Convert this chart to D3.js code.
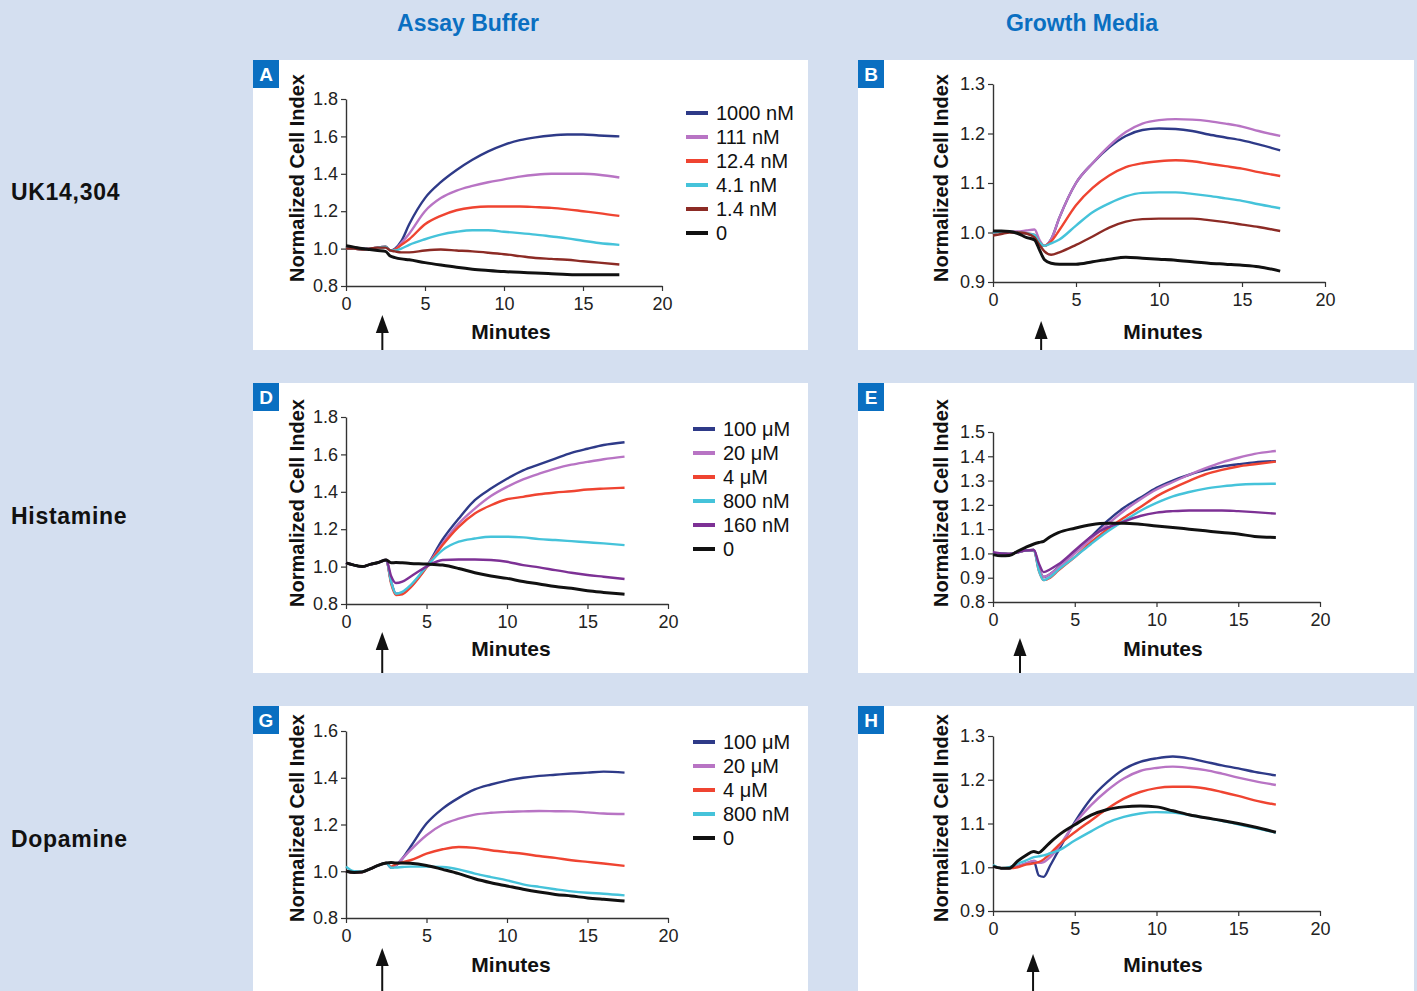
<!DOCTYPE html>
<html>
<head>
<meta charset="utf-8">
<script src="https://cdn.jsdelivr.net/npm/d3@7"></script>
<style>
  body { margin: 0; background: #d4dff0; }
  svg text { font-family: "Liberation Sans", Arial, Helvetica, sans-serif; }
</style>
</head>
<body>
<svg id="chart" width="1417" height="991"></svg>
<script>
// ---- Data ----
const minutes = [0, 0.5, 1, 1.5, 2, 2.5, 2.8, 3.1, 3.5, 4, 5, 6, 7, 8, 9, 10, 11, 12, 13, 14, 15, 16, 17.3];

const columnTitles = ["Assay Buffer", "Growth Media"];
const rowTitles = ["UK14,304", "Histamine", "Dopamine"];
const panelLetters = ["A", "B", "D", "E", "G", "H"];
const additionTimes = [2.3, 2.9, 2.25, 1.65, 2.25, 2.45];
const xTicks = [0, 5, 10, 15, 20];

const ukLabels = ["1000 nM", "111 nM", "12.4 nM", "4.1 nM", "1.4 nM", "0"];
const histLabels = ["100 μM", "20 μM", "4 μM", "800 nM", "160 nM", "0"];
const dopaLabels = ["100 μM", "20 μM", "4 μM", "800 nM", "0"];

// A: UK14,304 in assay buffer
const ukBuffer = [
  [1.01, 1.005, 1.0, 1.0, 1.005, 1.01, 0.99, 1.0, 1.04, 1.13, 1.27, 1.355, 1.42, 1.475, 1.52, 1.555, 1.58, 1.595, 1.605, 1.61, 1.61, 1.605, 1.60],
  [1.0, 1.0, 0.995, 1.0, 1.005, 1.01, 0.99, 0.995, 1.03, 1.08, 1.2, 1.27, 1.31, 1.335, 1.355, 1.37, 1.385, 1.395, 1.4, 1.4, 1.4, 1.395, 1.38],
  [1.0, 1.0, 0.995, 1.0, 1.005, 1.01, 0.99, 0.995, 1.02, 1.05, 1.13, 1.175, 1.205, 1.22, 1.225, 1.225, 1.225, 1.222, 1.218, 1.21, 1.2, 1.19, 1.175],
  [1.0, 1.0, 0.995, 1.0, 1.005, 1.01, 0.99, 0.99, 1.0, 1.02, 1.05, 1.075, 1.09, 1.098, 1.098, 1.09, 1.083, 1.075, 1.065, 1.055, 1.042, 1.03, 1.02],
  [1.0, 1.0, 0.995, 1.0, 1.005, 1.005, 0.99, 0.985, 0.98, 0.98, 0.99, 0.995, 0.99, 0.985, 0.978, 0.97, 0.96, 0.95, 0.945, 0.94, 0.932, 0.925, 0.915],
  [1.015, 1.008, 1.0, 0.995, 0.99, 0.985, 0.96, 0.952, 0.945, 0.94, 0.925, 0.912, 0.9, 0.89, 0.883, 0.877, 0.873, 0.87, 0.866, 0.862, 0.86, 0.86, 0.86]
];
// B: UK14,304 in growth media
const ukMedia = [
  [1.0, 1.002, 1.002, 1.0, 0.998, 0.993, 0.98, 0.973, 0.986, 1.03, 1.1, 1.14, 1.172, 1.195, 1.207, 1.21, 1.209, 1.205, 1.198, 1.192, 1.186, 1.178, 1.166],
  [1.0, 1.002, 1.002, 1.002, 1.004, 1.006, 0.985, 0.973, 0.986, 1.03, 1.1, 1.14, 1.175, 1.203, 1.22, 1.227, 1.229, 1.228, 1.225, 1.22, 1.214, 1.205, 1.195],
  [1.0, 1.002, 1.002, 1.0, 0.998, 0.995, 0.98, 0.973, 0.982, 1.005, 1.055, 1.09, 1.115, 1.132, 1.14, 1.144, 1.146, 1.144, 1.139, 1.134, 1.129, 1.122, 1.114],
  [1.0, 1.002, 1.002, 1.0, 0.998, 0.995, 0.98, 0.973, 0.978, 0.986, 1.014, 1.041, 1.059, 1.073, 1.08, 1.081, 1.081, 1.078, 1.074, 1.069, 1.064, 1.057, 1.049],
  [0.994, 0.997, 1.0, 1.0, 0.998, 0.99, 0.975, 0.962, 0.955, 0.96, 0.975, 0.992, 1.01, 1.022, 1.027, 1.028, 1.028, 1.028, 1.025, 1.021, 1.016, 1.011, 1.003],
  [1.003, 1.003, 1.002, 0.998, 0.99, 0.985, 0.965, 0.945, 0.938, 0.936, 0.936, 0.941, 0.946, 0.95, 0.948, 0.946, 0.944, 0.941, 0.938, 0.936, 0.934, 0.931, 0.922]
];
// D: histamine in assay buffer
const histBuffer = [
  [1.02, 1.008, 1.0, 1.012, 1.022, 1.035, 0.92, 0.855, 0.86, 0.893, 1.0, 1.145, 1.257, 1.355, 1.417, 1.47, 1.515, 1.547, 1.578, 1.608, 1.63, 1.65, 1.665],
  [1.02, 1.008, 1.0, 1.012, 1.022, 1.035, 0.92, 0.855, 0.86, 0.893, 1.0, 1.124, 1.23, 1.31, 1.377, 1.426, 1.466, 1.497, 1.524, 1.545, 1.56, 1.574, 1.588],
  [1.02, 1.008, 1.0, 1.012, 1.022, 1.035, 0.91, 0.848, 0.852, 0.888, 0.995, 1.115, 1.213, 1.284, 1.328, 1.36, 1.373, 1.387, 1.396, 1.403, 1.412, 1.417, 1.422],
  [1.02, 1.008, 1.0, 1.012, 1.022, 1.035, 0.92, 0.855, 0.865, 0.9, 1.0, 1.088, 1.133, 1.15, 1.16, 1.16, 1.156, 1.147, 1.142, 1.136, 1.13, 1.124, 1.115],
  [1.02, 1.008, 1.0, 1.012, 1.022, 1.035, 0.95, 0.912, 0.92, 0.946, 1.0, 1.035, 1.038, 1.038, 1.035, 1.026, 1.008, 0.996, 0.981, 0.967, 0.955, 0.946, 0.934],
  [1.02, 1.008, 1.0, 1.012, 1.022, 1.035, 1.02, 1.022, 1.02, 1.017, 1.014, 1.008, 0.99, 0.967, 0.95, 0.937, 0.92, 0.907, 0.893, 0.884, 0.871, 0.862, 0.852]
];
// E: histamine in growth media
const histMedia = [
  [1.0, 1.0, 0.998, 1.005, 1.012, 1.014, 0.94, 0.903, 0.915, 0.944, 1.005, 1.069, 1.134, 1.188, 1.229, 1.27, 1.3, 1.324, 1.344, 1.358, 1.367, 1.375, 1.38],
  [1.0, 1.0, 0.998, 1.005, 1.012, 1.014, 0.94, 0.903, 0.915, 0.941, 1.0, 1.06, 1.12, 1.175, 1.222, 1.263, 1.294, 1.324, 1.351, 1.375, 1.394, 1.41, 1.422],
  [1.0, 1.0, 0.998, 1.005, 1.012, 1.014, 0.93, 0.89, 0.9, 0.93, 0.985, 1.046, 1.1, 1.147, 1.19, 1.235, 1.269, 1.299, 1.326, 1.344, 1.358, 1.367, 1.378],
  [1.0, 1.0, 0.998, 1.005, 1.012, 1.014, 0.93, 0.89, 0.903, 0.933, 0.985, 1.039, 1.09, 1.134, 1.175, 1.208, 1.235, 1.253, 1.267, 1.276, 1.283, 1.286, 1.287],
  [1.005, 1.0, 0.998, 1.005, 1.012, 1.014, 0.96, 0.923, 0.935, 0.955, 1.012, 1.069, 1.107, 1.131, 1.154, 1.168, 1.174, 1.177, 1.177, 1.177, 1.174, 1.17, 1.164],
  [0.995, 0.99, 0.991, 1.009, 1.025, 1.039, 1.045, 1.05, 1.069, 1.086, 1.104, 1.118, 1.124, 1.124, 1.12, 1.113, 1.107, 1.1, 1.093, 1.086, 1.08, 1.07, 1.066]
];
// G: dopamine in assay buffer
const dopaBuffer = [
  [1.0, 0.995, 0.997, 1.01, 1.025, 1.035, 1.015, 1.025, 1.054, 1.104, 1.204, 1.268, 1.314, 1.35, 1.371, 1.388, 1.4, 1.408, 1.413, 1.418, 1.422, 1.426, 1.422],
  [1.0, 0.995, 0.997, 1.01, 1.025, 1.035, 1.015, 1.025, 1.054, 1.09, 1.154, 1.2, 1.225, 1.242, 1.25, 1.254, 1.256, 1.258, 1.257, 1.256, 1.252, 1.247, 1.245],
  [1.0, 0.995, 0.997, 1.01, 1.025, 1.035, 1.02, 1.03, 1.038, 1.047, 1.075, 1.094, 1.104, 1.1, 1.09, 1.082, 1.075, 1.065, 1.057, 1.047, 1.04, 1.033, 1.023],
  [1.02, 1.0, 0.998, 1.01, 1.025, 1.035, 1.015, 1.016, 1.018, 1.02, 1.02, 1.018, 1.008, 0.99, 0.975, 0.961, 0.944, 0.933, 0.923, 0.914, 0.908, 0.904, 0.897],
  [1.0, 0.995, 0.997, 1.01, 1.025, 1.035, 1.037, 1.035, 1.035, 1.034, 1.025, 1.008, 0.99, 0.968, 0.951, 0.937, 0.923, 0.911, 0.901, 0.894, 0.886, 0.88, 0.873]
];
// H: dopamine in growth media
const dopaMedia = [
  [1.002, 0.998, 0.998, 1.002, 1.008, 1.013, 0.981, 0.978, 1.004, 1.038, 1.103, 1.157, 1.195, 1.224, 1.241, 1.249, 1.253, 1.249, 1.241, 1.233, 1.226, 1.218, 1.21],
  [1.002, 0.998, 0.998, 1.002, 1.008, 1.015, 1.01, 1.012, 1.023, 1.046, 1.1, 1.142, 1.176, 1.203, 1.22, 1.227, 1.23, 1.227, 1.222, 1.214, 1.205, 1.197, 1.188],
  [1.002, 0.998, 0.998, 1.0, 1.006, 1.009, 1.012, 1.018, 1.031, 1.05, 1.08, 1.107, 1.134, 1.157, 1.172, 1.181, 1.184, 1.184, 1.18, 1.172, 1.163, 1.153, 1.143],
  [1.005, 0.998, 1.0, 1.008, 1.015, 1.023, 1.025, 1.027, 1.032, 1.038, 1.061, 1.082, 1.102, 1.115, 1.123, 1.126, 1.125, 1.119, 1.113, 1.106, 1.098, 1.09, 1.079],
  [1.002, 0.998, 0.998, 1.014, 1.027, 1.036, 1.033, 1.042, 1.057, 1.073, 1.097, 1.119, 1.132, 1.138, 1.14, 1.138, 1.129, 1.12, 1.113, 1.107, 1.1, 1.092, 1.08]
];

// y-axis ticks per panel
const yTicksA = [0.8, 1.0, 1.2, 1.4, 1.6, 1.8];
const yTicksB = [0.9, 1.0, 1.1, 1.2, 1.3];
const yTicksE = [0.8, 0.9, 1.0, 1.1, 1.2, 1.3, 1.4, 1.5];
const yTicksG = [0.8, 1.0, 1.2, 1.4, 1.6];

// ---- Colours ----
const navy = "#2e3a88", orchid = "#b874c4", red = "#ef4431", cyan = "#45c3da",
      brown = "#8c2b25", purple = "#7d3195", black = "#111111";

// ---- Layout ----
const panels = [
  { values: ukBuffer, labels: ukLabels, colors: [navy, orchid, red, cyan, brown, black], yTicks: yTicksA,
    box: [253, 60, 555, 290], xr: [346, 662], yr: [286, 99], legend: [686, 113], title: [297, 178], minutes: [511, 332] },
  { values: ukMedia, labels: null, colors: [navy, orchid, red, cyan, brown, black], yTicks: yTicksB,
    box: [858, 60, 556, 290], xr: [993, 1325], yr: [282, 84], title: [941, 178], minutes: [1163, 332] },
  { values: histBuffer, labels: histLabels, colors: [navy, orchid, red, cyan, purple, black], yTicks: yTicksA,
    box: [253, 383, 555, 290], xr: [346, 668], yr: [604, 417], legend: [693, 429], title: [297, 503], minutes: [511, 649] },
  { values: histMedia, labels: null, colors: [navy, orchid, red, cyan, purple, black], yTicks: yTicksE,
    box: [858, 383, 556, 290], xr: [993, 1320], yr: [602, 432], title: [941, 503], minutes: [1163, 649] },
  { values: dopaBuffer, labels: dopaLabels, colors: [navy, orchid, red, cyan, black], yTicks: yTicksG,
    box: [253, 706, 555, 285], xr: [346, 668], yr: [918, 731], legend: [693, 742], title: [297, 818], minutes: [511, 965] },
  { values: dopaMedia, labels: null, colors: [navy, orchid, red, cyan, black], yTicks: yTicksB,
    box: [858, 706, 556, 285], xr: [993, 1320], yr: [911, 736], title: [941, 818], minutes: [1163, 965] }
];

const svg = d3.select("#chart");

// Column headers
svg.selectAll("text.col")
  .data(columnTitles)
  .join("text")
    .attr("class", "col")
    .attr("x", (d, i) => [468, 1082][i])
    .attr("y", 31)
    .attr("text-anchor", "middle")
    .style("font-size", "23px")
    .style("font-weight", "bold")
    .style("fill", "#0a6fc1")
    .text(d => d);

// Row labels
svg.selectAll("text.row")
  .data(rowTitles)
  .join("text")
    .attr("class", "row")
    .attr("x", 11)
    .attr("y", (d, i) => 200 + i * 323.5)
    .style("font-size", "23px")
    .style("font-weight", "bold")
    .style("letter-spacing", "0.7px")
    .style("fill", "#111")
    .text(d => d);

panels.forEach((p, i) => {
  const g = svg.append("g");
  const [bx, by, bw, bh] = p.box;

  // white panel + letter box
  g.append("rect").attr("x", bx).attr("y", by).attr("width", bw).attr("height", bh).attr("fill", "#fff");
  g.append("rect").attr("x", bx).attr("y", by).attr("width", 26).attr("height", 28).attr("fill", "#0a6fc1");
  g.append("text")
    .attr("x", bx + 13).attr("y", by + 21)
    .attr("text-anchor", "middle")
    .style("font-size", "19px").style("font-weight", "bold").style("fill", "#fff")
    .text(panelLetters[i]);

  const x = d3.scaleLinear().domain([0, 20]).range(p.xr);
  const y = d3.scaleLinear().domain([p.yTicks[0], p.yTicks[p.yTicks.length - 1]]).range(p.yr);

  // axes
  const xAxis = g.append("g")
    .attr("transform", "translate(0," + p.yr[0] + ")")
    .call(d3.axisBottom(x).tickValues(xTicks).tickSize(5).tickSizeOuter(0).tickPadding(6));
  const yAxis = g.append("g")
    .attr("transform", "translate(" + p.xr[0] + ",0)")
    .call(d3.axisLeft(y).tickValues(p.yTicks).tickFormat(d3.format(".1f")).tickSize(5).tickSizeOuter(0).tickPadding(3));
  [xAxis, yAxis].forEach(a => {
    a.select(".domain").attr("stroke", "#333").attr("stroke-width", 1.4);
    a.selectAll(".tick line").attr("stroke", "#333").attr("stroke-width", 1.2);
    a.selectAll(".tick text").style("font-size", "18px").style("fill", "#222")
      .style("font-family", "'Liberation Sans', Arial, sans-serif");
  });

  // axis titles
  g.append("text")
    .attr("transform", "translate(" + p.title[0] + "," + p.title[1] + ") rotate(-90)")
    .attr("text-anchor", "middle")
    .attr("dy", "0.35em")
    .style("font-size", "20px").style("font-weight", "bold").style("fill", "#111")
    .text("Normalized Cell Index");
  g.append("text")
    .attr("x", p.minutes[0]).attr("y", p.minutes[1])
    .attr("text-anchor", "middle")
    .attr("dy", "0.35em")
    .style("font-size", "21px").style("font-weight", "bold").style("fill", "#111")
    .text("Minutes");

  // curves
  const line = d3.line()
    .x((d, k) => x(minutes[k]))
    .y(d => y(d))
    .curve(d3.curveMonotoneX);
  g.selectAll("path.series")
    .data(p.values)
    .join("path")
      .attr("class", "series")
      .attr("d", line)
      .attr("fill", "none")
      .attr("stroke", (d, k) => p.colors[k])
      .attr("stroke-width", (d, k) => k === p.values.length - 1 ? 3 : 2.4)
      .attr("stroke-linejoin", "round");

  // addition arrow
  const ax = x(additionTimes[i]);
  const tip = p.minutes[1] - 17 + (i % 2) * 6;
  g.append("line")
    .attr("x1", ax).attr("x2", ax)
    .attr("y1", by + bh).attr("y2", tip + 12)
    .attr("stroke", "#111").attr("stroke-width", 2);
  g.append("path")
    .attr("d", "M" + ax + "," + tip + "L" + (ax - 6.5) + "," + (tip + 18) + "L" + (ax + 6.5) + "," + (tip + 18) + "Z")
    .attr("fill", "#111");

  // legend
  if (p.labels) {
    const lg = g.append("g").attr("transform", "translate(" + p.legend[0] + "," + p.legend[1] + ")");
    const rows = lg.selectAll("g")
      .data(p.labels)
      .join("g")
        .attr("transform", (d, k) => "translate(0," + k * 24 + ")");
    rows.append("line")
      .attr("x1", 0).attr("x2", 22)
      .attr("stroke", (d, k) => p.colors[k])
      .attr("stroke-width", 4);
    rows.append("text")
      .attr("x", 30)
      .attr("dy", "0.36em")
      .style("font-size", "20px").style("fill", "#111")
      .text(d => d);
  }
});
</script>
</body>
</html>
